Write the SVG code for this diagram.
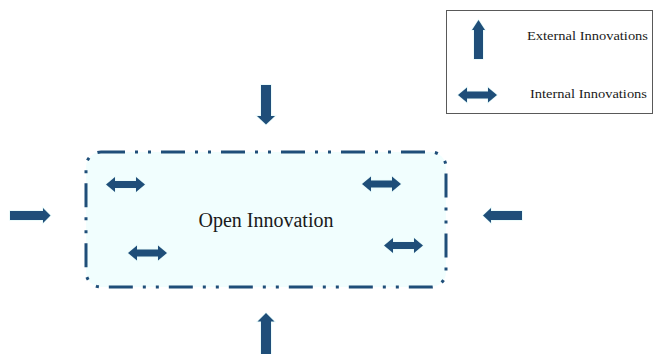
<svg xmlns="http://www.w3.org/2000/svg" xmlns:xlink="http://www.w3.org/1999/xlink" width="654" height="354" viewBox="0 0 654 354">
<style>
.arr{fill:#1F4E79;stroke:#E6FAFA;stroke-width:1.5;paint-order:stroke}
.lbl{font-family:"Liberation Serif","Times New Roman",serif;fill:#1a1a1a}
</style>
<defs>
<path id="dbl" d="M-19.5 0 L-10.5 -7.5 L-10.5 -3.5 L10.5 -3.5 L10.5 -7.5 L19.5 0 L10.5 7.5 L10.5 3.5 L-10.5 3.5 L-10.5 7.5 Z"/>
</defs>
<rect width="654" height="354" fill="#ffffff"/>
<g id="legend">
<rect x="446.5" y="10.5" width="206" height="103" fill="#ffffff" stroke="#595959" stroke-width="1"/>
<polygon class="arr" points="478.5,20 485,30 483,30 483,59 474,59 474,30 472,30"/>
<text class="lbl" x="527" y="40" font-size="13" textLength="121" lengthAdjust="spacingAndGlyphs">External Innovations</text>
<use xlink:href="#dbl" class="arr" transform="translate(477.5,95)"/>
<text class="lbl" x="530" y="97.5" font-size="13" textLength="117" lengthAdjust="spacingAndGlyphs">Internal Innovations</text>
</g>
<g id="open-innovation">
<rect x="86" y="152" width="360" height="135" rx="15" ry="15" fill="#F1FEFE" stroke="#1F4E79" stroke-width="3" stroke-dasharray="24 10 3 10 3 10"/>
<text class="lbl" x="266" y="226.5" font-size="20" text-anchor="middle">Open Innovation</text>
<use xlink:href="#dbl" class="arr" transform="translate(125.5,184.5)"/>
<use xlink:href="#dbl" class="arr" transform="translate(147.5,253)"/>
<use xlink:href="#dbl" class="arr" transform="translate(381.5,184)"/>
<use xlink:href="#dbl" class="arr" transform="translate(403.5,245.5)"/>
</g>
<g id="connectors">
<polygon class="arr" points="261,85 271,85 271,116 275,116 266,124.5 257,116 261,116"/>
<polygon class="arr" points="266,313 274.5,321.5 271,321.5 271,354 261,354 261,321.5 257.5,321.5"/>
<polygon class="arr" points="10,211 43,211 43,208 50.5,215.5 43,223 43,220 10,220"/>
<polygon class="arr" points="483,215.5 491,208 491,211 522,211 522,220 491,220 491,223"/>
</g>
</svg>
